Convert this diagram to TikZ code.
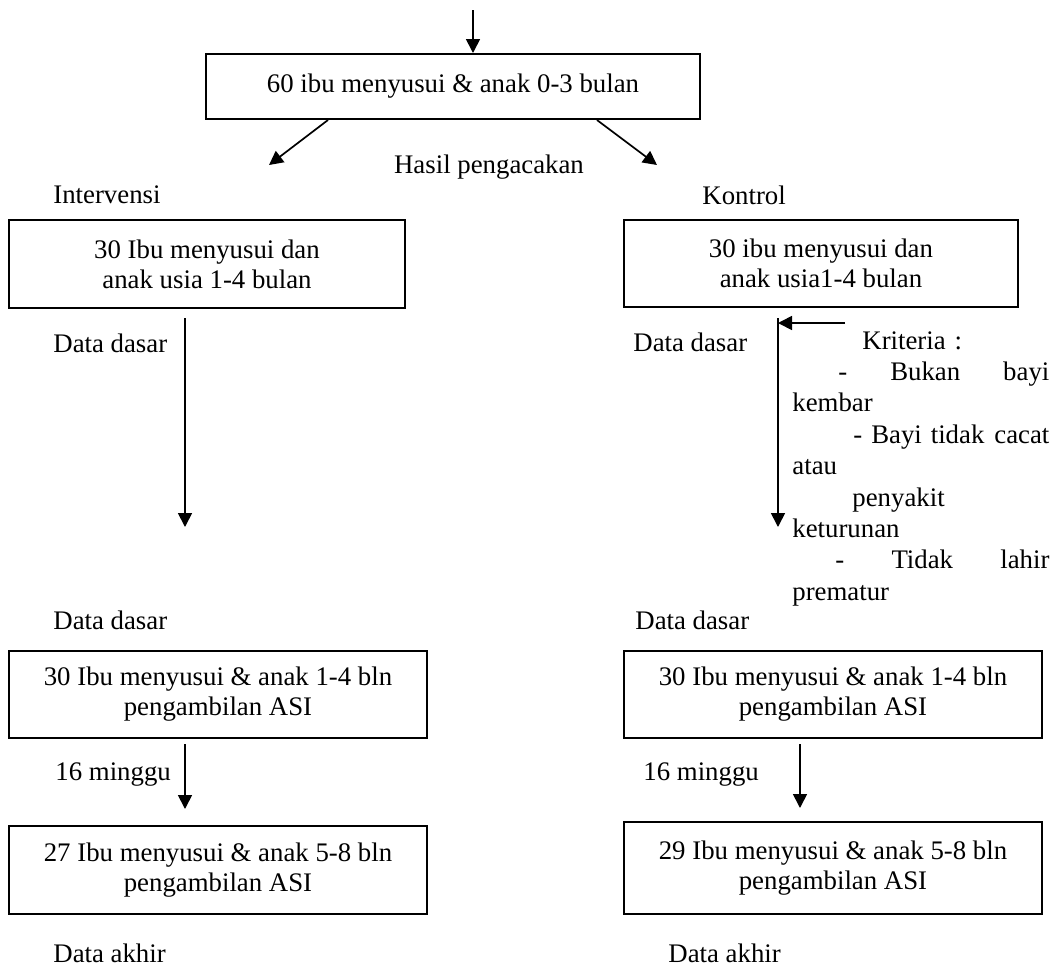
\documentclass[tikz,border=0pt]{standalone}
\usepackage{fontspec}
\setmainfont{Liberation Serif}
\usetikzlibrary{arrows.meta}

\tikzset{
    kotak/.style={draw, line width=1pt, align=center},
    panah/.style={line width=0.85pt, -{Triangle[length=7pt,width=7pt]}},
}

\begin{document}
\begin{tikzpicture}[x=0.5pt,y=0.5pt]
    \tikzstyle{every node}+=[inner sep=0pt, font=\fontsize{13.4}{15}\selectfont]
    \useasboundingbox (0,0) rectangle (1057,-965);
    \node [kotak, minimum width=247pt, minimum height=32.5pt] (pop) at (453,-86.5) {60 ibu menyusui \& anak 0-3 bulan};
    \coordinate (masuk) at (473,-10);
    \draw [panah] (masuk) -- (masuk |- pop.north);
    \coordinate (cabangI) at (269,-165);
    \coordinate (cabangK) at (657,-165);
    \draw [panah] ([xshift=-62.5pt]pop.south) -- (cabangI);
    \draw [panah] ([xshift=72pt]pop.south) -- (cabangK);
    \node (hasil) at (489,-167) {Hasil pengacakan};
    \node [anchor=west] (lblI) at (53,-195) {Intervensi};
    \node [anchor=west] (lblK) at (702,-195) {Kontrol};
    \node [kotak, minimum width=198pt, minimum height=44pt] (intv) at (207,-264) {30 Ibu menyusui dan\\anak usia 1-4 bulan};
    \node [kotak, minimum width=197pt, minimum height=43.5pt] (ktrl) at (821,-263.5) {30 ibu menyusui dan\\anak usia1-4 bulan};
    \coordinate (intvAtas) at (185,-318);
    \coordinate (intvBawah) at (185,-527);
    \draw [panah] (intvAtas) -- (intvBawah);
    \coordinate (ktrlAtas) at (778,-318);
    \coordinate (ktrlBawah) at (778,-527);
    \coordinate (kritMasuk) at (845,-323);
    \draw [panah] (ktrlAtas) -- (ktrlBawah);
    \draw [panah] (kritMasuk) -- (kritMasuk -| ktrlAtas);
    \node [anchor=west] (dd1) at (53,-343) {Data dasar};
    \node [anchor=west] (dd2) at (633,-342) {Data dasar};
    \node [anchor=north west, text width=128.5pt, font=\fontsize{13.4}{15.7}\selectfont] (krit) at (792,-331) {%
        \hspace*{35pt}Kriteria :\\
        \hspace*{23pt}-\hfill Bukan\hfill bayi\\
        kembar\\
        \hspace*{30.5pt}- Bayi tidak\hfill cacat\\
        atau\\
        \hspace*{30pt}penyakit\\
        keturunan\\
        \hspace*{21.5pt}-\hfill Tidak\hfill lahir\\
        prematur};
    \node [anchor=west] (dd3) at (53,-620) {Data dasar};
    \node [anchor=west] (dd4) at (635,-620) {Data dasar};
    \node [kotak, minimum width=209pt, minimum height=43.5pt] (intvA) at (218,-694.5) {30 Ibu menyusui \& anak 1-4 bln\\pengambilan ASI};
    \node [kotak, minimum width=209pt, minimum height=43.5pt] (ktrlA) at (833,-694.5) {30 Ibu menyusui \& anak 1-4 bln\\pengambilan ASI};
    \node [kotak, minimum width=209pt, minimum height=44pt] (intvB) at (218,-870) {27 Ibu menyusui \& anak 5-8 bln\\pengambilan ASI};
    \node [kotak, minimum width=209pt, minimum height=46pt] (ktrlB) at (833,-868) {29 Ibu menyusui \& anak 5-8 bln\\pengambilan ASI};
    \coordinate (intvT) at (185,-744);
    \coordinate (ktrlT) at (800,-744);
    \draw [panah] (intvT) -- ([yshift=8pt]intvT |- intvB.north);
    \draw [panah] (ktrlT) -- ([yshift=6.5pt]ktrlT |- ktrlB.north);
    \node [anchor=west] (mg1) at (55,-775) {16 minggu};
    \node [anchor=west] (mg2) at (643,-775) {16 minggu};
    \node [anchor=west] (da1) at (53,-953) {Data akhir};
    \node [anchor=west] (da2) at (668,-953) {Data akhir};
\end{tikzpicture}
\end{document}
